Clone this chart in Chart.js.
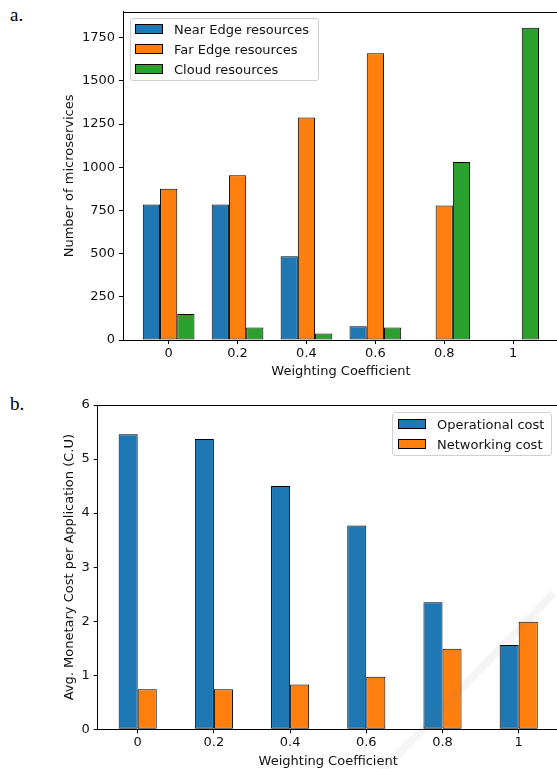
<!DOCTYPE html>
<html>
<head>
<meta charset="utf-8">
<script src="https://cdn.jsdelivr.net/npm/chart.js@4.4.1/dist/chart.umd.min.js"></script>
<style>
  html, body { margin: 0; padding: 0; background: #fff; }
  body { width: 557px; height: 769px; overflow: hidden; position: relative; font-family: 'DejaVu Sans', sans-serif; }
  canvas { position: absolute; left: 0; }
  #chartA { top: 0; }
  #chartB { top: 390px; }
  .panel { position: absolute; font-family: 'Liberation Serif', serif; font-size: 19px; color: #000; }
  .legend { position: absolute; border: 1px solid #d0d0d0; border-radius: 3px; background: rgba(255,255,255,0.85); box-sizing: border-box; font-size: 13px; color: #111; }
  .legend .row { height: 20px; display: flex; align-items: center; }
  .legend .sw { width: 28px; height: 10px; border: 1px solid #000; box-sizing: border-box; margin-right: 11px; }
  .stripe { position: absolute; height: 8px; background: rgba(120,120,120,0.07); transform-origin: 50% 50%; pointer-events: none; }
</style>
</head>
<body>
<div class="panel" style="left:10px; top:4px;">a.</div>
<div class="panel" style="left:10px; top:393px;">b.</div>
<canvas id="chartA" width="600" height="385"></canvas>
<canvas id="chartB" width="600" height="379"></canvas>
<div class="legend" id="legendA" style="left:130px; top:18px; width:189px; height:63px; padding:0 0 0 4px;"></div>
<div class="legend" id="legendB" style="left:392px; top:412px; width:160px; height:44px; padding:1px 0 0 5px;"></div>
<div class="stripe" style="left:340px; top:680px; width:252px; transform: rotate(134deg);"></div>
<script>
// valeurs
var weights = ['0', '0.2', '0.4', '0.6', '0.8', '1'];
var xPos = [0, 1, 2, 3, 4, 5];

var nearEdge = [785, 785, 485, 79, 0, 0];
var farEdge = [875, 954, 1288, 1660, 779, 0];
var cloud = [150, 73, 38, 73, 1031, 1808];
var countTicks = [0, 250, 500, 750, 1000, 1250, 1500, 1750];

var operational = [5.46, 5.37, 4.50, 3.77, 2.35, 1.56];
var networking = [0.74, 0.74, 0.83, 0.97, 1.49, 1.99];
var costTicks = [0, 1, 2, 3, 4, 5, 6];

var blue = '#1f77b4', orange = '#ff7f0e', green = '#2ca02c';

Chart.defaults.font.family = "'DejaVu Sans', sans-serif";
Chart.defaults.font.size = 13;
Chart.defaults.color = '#111';

function points(values) {
    return values.map(function(v, i) { return { x: xPos[i], y: v }; });
}

// cadre haut / droite comme matplotlib
var frame = {
    id: 'frame',
    afterDraw: function(chart) {
        var a = chart.chartArea, c = chart.ctx;
        c.save();
        c.strokeStyle = '#000';
        c.lineWidth = 1;
        c.beginPath();
        c.moveTo(a.left, Math.round(a.top) + 0.5);
        c.lineTo(a.right, Math.round(a.top) + 0.5);
        c.moveTo(Math.round(a.right) + 0.5, a.top);
        c.lineTo(Math.round(a.right) + 0.5, a.bottom);
        c.stroke();
        c.restore();
    }
};

function makeChart(id, datasets, opts) {
    return new Chart(document.getElementById(id), {
        type: 'bar',
        data: { datasets: datasets },
        plugins: [frame],
        options: {
            responsive: false,
            animation: false,
            layout: { padding: { top: opts.top, right: opts.right, left: 0, bottom: 0 } },
            plugins: { legend: { display: false }, tooltip: { enabled: false } },
            datasets: { bar: { categoryPercentage: opts.groupWidth, barPercentage: 1, borderColor: '#000', borderWidth: 1, borderSkipped: false } },
            scales: {
                x: {
                    type: 'linear',
                    min: opts.xmin,
                    max: opts.xmax,
                    offset: false,
                    afterBuildTicks: function(s) { s.ticks = xPos.map(function(v) { return { value: v }; }); },
                    afterFit: function(s) { s.height = opts.xHeight; },
                    ticks: { padding: 2, autoSkip: false, maxRotation: 0, callback: function(v) { return weights[v]; } },
                    grid: { display: true, offset: false, drawOnChartArea: false, drawTicks: true, tickLength: 4, color: '#000' },
                    border: { display: true, color: '#000', width: 1 },
                    title: { display: true, text: 'Weighting Coefficient', padding: { top: 0, bottom: opts.xTitlePad }, color: '#111' }
                },
                y: {
                    min: 0,
                    max: opts.ymax,
                    afterBuildTicks: function(s) { s.ticks = opts.yTicks.map(function(v) { return { value: v }; }); },
                    afterFit: function(s) { s.width = opts.yWidth; },
                    ticks: { padding: 4, callback: function(v) { return String(v); } },
                    grid: { display: true, drawOnChartArea: false, drawTicks: true, tickLength: 4, color: '#000' },
                    border: { display: true, color: '#000', width: 1 },
                    title: { display: true, text: opts.yTitle, padding: { top: 62, bottom: 0 }, color: '#111' }
                }
            }
        }
    });
}

var chartA = makeChart('chartA', [
    { label: 'Near Edge resources', data: points(nearEdge), backgroundColor: blue },
    { label: 'Far Edge resources', data: points(farEdge), backgroundColor: orange },
    { label: 'Cloud resources', data: points(cloud), backgroundColor: green }
], {
    top: 11, right: 41.2, xHeight: 45, xTitlePad: 6, yWidth: 123,
    xmin: -0.6625, xmax: 5.6625, ymax: 1900, yTicks: countTicks, groupWidth: 0.75,
    yTitle: 'Number of microservices'
});

var chartB = makeChart('chartB', [
    { label: 'Operational cost', data: points(operational), backgroundColor: blue },
    { label: 'Networking cost', data: points(networking), backgroundColor: orange }
], {
    top: 15, right: 41.3, xHeight: 39.7, xTitlePad: 0, yWidth: 97.7,
    xmin: -0.525, xmax: 5.525, ymax: 6, yTicks: costTicks, groupWidth: 0.5,
    yTitle: 'Avg. Monetary Cost per Application (C.U)'
});

// légendes HTML
function buildLegend(elId, chart) {
    var el = document.getElementById(elId);
    chart.data.datasets.forEach(function(ds) {
        var row = document.createElement('div');
        row.className = 'row';
        var sw = document.createElement('span');
        sw.className = 'sw';
        sw.style.background = ds.backgroundColor;
        var txt = document.createElement('span');
        txt.textContent = ds.label;
        row.appendChild(sw);
        row.appendChild(txt);
        el.appendChild(row);
    });
}
buildLegend('legendA', chartA);
buildLegend('legendB', chartB);
</script>
</body>
</html>
